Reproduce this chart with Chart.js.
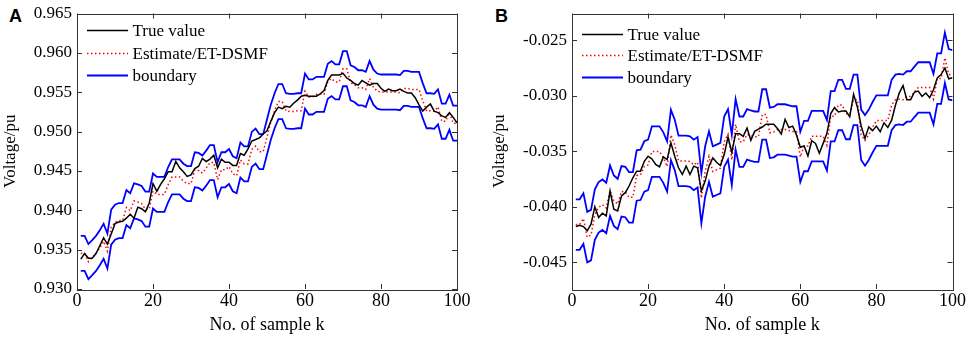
<!DOCTYPE html>
<html>
<head>
<meta charset="utf-8">
<script src="https://cdn.jsdelivr.net/npm/chart.js@4.4.1/dist/chart.umd.min.js"></script>
<style>
  body { margin: 0; background: #fff; width: 969px; height: 341px; position: relative; overflow: hidden; }
  .wrap { position: absolute; top: 0; height: 341px; }
  #wrapA { left: 0; width: 480px; }
  #wrapB { left: 485px; width: 484px; }
  .tag { position: absolute; top: 7px; font: bold 18px "Liberation Sans", Arial, sans-serif; line-height: 18px; color: #000; }
</style>
</head>
<body>
<div class="tag" style="left:9px">A</div>
<div class="tag" style="left:495px">B</div>
<div class="wrap" id="wrapA"><canvas id="chartA" width="480" height="341"></canvas></div>
<div class="wrap" id="wrapB"><canvas id="chartB" width="484" height="341"></canvas></div>
<script>
// amostras k = 1..100
var sampleK = [];
for (var i = 1; i <= 100; i++) sampleK.push(i);

var xTicks = [0, 20, 40, 60, 80, 100];
var yTicksA = [0.930, 0.935, 0.940, 0.945, 0.950, 0.955, 0.960, 0.965];
var yTicksB = [-0.045, -0.040, -0.035, -0.030, -0.025];

// Painel A
var trueA = [0.9338,0.9345,0.9339,0.9339,0.9345,0.9355,0.9365,0.9357,0.9370,0.9383,
  0.9385,0.9386,0.9390,0.9395,0.9390,0.9404,0.9402,0.9398,0.9409,0.9434,
  0.9424,0.9433,0.9440,0.9449,0.9449,0.9462,0.9454,0.9449,0.9443,0.9445,
  0.9453,0.9456,0.9466,0.9462,0.9465,0.9470,0.9454,0.9465,0.9461,0.9461,
  0.9457,0.9457,0.9472,0.9470,0.9478,0.9488,0.9490,0.9492,0.9497,0.9501,
  0.9513,0.9524,0.9531,0.9529,0.9532,0.9531,0.9536,0.9540,0.9545,0.9546,
  0.9545,0.9545,0.9545,0.9548,0.9552,0.9565,0.9572,0.9572,0.9572,0.9574,
  0.9568,0.9565,0.9561,0.9559,0.9565,0.9562,0.9559,0.9561,0.9561,0.9555,
  0.9551,0.9554,0.9552,0.9552,0.9554,0.9551,0.9549,0.9549,0.9543,0.9534,
  0.9526,0.9531,0.9535,0.9526,0.9524,0.9520,0.9518,0.9524,0.9518,0.9511];
var estA = [0.93452,0.93452,0.93348,0.93398,0.93452,0.93523,0.93606,0.93481,0.93785,0.93848,
  0.93869,0.93869,0.94035,0.93994,0.94119,0.94106,0.94085,0.94014,0.94014,0.94244,
  0.94202,0.94202,0.94202,0.94327,0.94423,0.94423,0.94423,0.94369,0.94339,0.94339,
  0.94514,0.94506,0.94473,0.94535,0.94606,0.94606,0.94389,0.94514,0.94514,0.94556,
  0.94464,0.94439,0.94639,0.94589,0.94589,0.94773,0.94814,0.94744,0.94744,0.94931,
  0.95119,0.95264,0.95381,0.95381,0.95264,0.95256,0.95256,0.95264,0.95264,0.95514,
  0.95439,0.95439,0.95473,0.95473,0.95473,0.95639,0.95673,0.95631,0.95631,0.95798,
  0.95798,0.95619,0.95598,0.95556,0.95556,0.95535,0.95673,0.95564,0.95514,0.95502,
  0.95502,0.95502,0.95502,0.95502,0.95494,0.95548,0.95548,0.95535,0.95535,0.95535,
  0.95389,0.95264,0.95264,0.95256,0.95314,0.95131,0.95131,0.95244,0.95106,0.95106];
var upperA = [0.93675,0.93675,0.93571,0.93621,0.93675,0.93746,0.93829,0.93704,0.94008,0.94071,
  0.94092,0.94092,0.94258,0.94217,0.94342,0.94329,0.94308,0.94237,0.94237,0.94467,
  0.94425,0.94425,0.94425,0.94550,0.94646,0.94646,0.94646,0.94592,0.94562,0.94562,
  0.94737,0.94729,0.94696,0.94758,0.94829,0.94829,0.94612,0.94737,0.94737,0.94779,
  0.94687,0.94662,0.94862,0.94812,0.94812,0.94996,0.95037,0.94967,0.94967,0.95154,
  0.95342,0.95487,0.95604,0.95604,0.95487,0.95479,0.95479,0.95487,0.95487,0.95737,
  0.95662,0.95662,0.95696,0.95696,0.95696,0.95862,0.95896,0.95854,0.95854,0.96021,
  0.96021,0.95842,0.95821,0.95779,0.95779,0.95758,0.95896,0.95787,0.95737,0.95725,
  0.95725,0.95725,0.95725,0.95725,0.95717,0.95771,0.95771,0.95758,0.95758,0.95758,
  0.95612,0.95487,0.95487,0.95479,0.95537,0.95354,0.95354,0.95467,0.95329,0.95329];
var lowerA = [0.93230,0.93230,0.93126,0.93176,0.93230,0.93301,0.93384,0.93259,0.93563,0.93626,
  0.93647,0.93647,0.93813,0.93772,0.93897,0.93884,0.93863,0.93792,0.93792,0.94022,
  0.93980,0.93980,0.93980,0.94105,0.94201,0.94201,0.94201,0.94147,0.94117,0.94117,
  0.94292,0.94284,0.94251,0.94313,0.94384,0.94384,0.94167,0.94292,0.94292,0.94334,
  0.94242,0.94217,0.94417,0.94367,0.94367,0.94551,0.94592,0.94522,0.94522,0.94709,
  0.94897,0.95042,0.95159,0.95159,0.95042,0.95034,0.95034,0.95042,0.95042,0.95292,
  0.95217,0.95217,0.95251,0.95251,0.95251,0.95417,0.95451,0.95409,0.95409,0.95576,
  0.95576,0.95397,0.95376,0.95334,0.95334,0.95313,0.95451,0.95342,0.95292,0.95280,
  0.95280,0.95280,0.95280,0.95280,0.95272,0.95326,0.95326,0.95313,0.95313,0.95313,
  0.95167,0.95042,0.95042,0.95034,0.95092,0.94909,0.94909,0.95022,0.94884,0.94884];

// Painel B
var trueB = [-0.04178,-0.04166,-0.04178,-0.04216,-0.04157,-0.03999,-0.04097,-0.04058,-0.04082,-0.03858,
  -0.04022,-0.04037,-0.03903,-0.03873,-0.03813,-0.03739,-0.03679,-0.03679,-0.03590,-0.03545,
  -0.03569,-0.03619,-0.03640,-0.03551,-0.03575,-0.03425,-0.03545,-0.03649,-0.03709,-0.03634,
  -0.03709,-0.03634,-0.03649,-0.03858,-0.03769,-0.03634,-0.03560,-0.03599,-0.03628,-0.03530,
  -0.03372,-0.03509,-0.03342,-0.03342,-0.03366,-0.03291,-0.03401,-0.03321,-0.03300,-0.03282,
  -0.03256,-0.03256,-0.03256,-0.03295,-0.03345,-0.03214,-0.03286,-0.03274,-0.03354,-0.03464,
  -0.03452,-0.03542,-0.03405,-0.03429,-0.03518,-0.03429,-0.03339,-0.03161,-0.03107,-0.03146,
  -0.03137,-0.03137,-0.03190,-0.02988,-0.03101,-0.03274,-0.03384,-0.03280,-0.03315,-0.03274,
  -0.03324,-0.03244,-0.03286,-0.03220,-0.03086,-0.02976,-0.02908,-0.03036,-0.03036,-0.02967,
  -0.02958,-0.03006,-0.02976,-0.03018,-0.02946,-0.02839,-0.02810,-0.02750,-0.02848,-0.02839];
var estB = [-0.04160,-0.04160,-0.04106,-0.04273,-0.04255,-0.04070,-0.04005,-0.03981,-0.04011,-0.03855,
  -0.03945,-0.03975,-0.03861,-0.03867,-0.03915,-0.03915,-0.03718,-0.03712,-0.03637,-0.03623,
  -0.03503,-0.03503,-0.03503,-0.03557,-0.03637,-0.03354,-0.03443,-0.03587,-0.03587,-0.03587,
  -0.03593,-0.03623,-0.03599,-0.03921,-0.03682,-0.03548,-0.03682,-0.03667,-0.03652,-0.03414,
  -0.03348,-0.03578,-0.03258,-0.03414,-0.03414,-0.03348,-0.03360,-0.03369,-0.03369,-0.03169,
  -0.03169,-0.03334,-0.03328,-0.03304,-0.03304,-0.03304,-0.03313,-0.03322,-0.03322,-0.03551,
  -0.03453,-0.03453,-0.03364,-0.03364,-0.03364,-0.03364,-0.03447,-0.03185,-0.03185,-0.03084,
  -0.03084,-0.03165,-0.03165,-0.03037,-0.03037,-0.03352,-0.03403,-0.03352,-0.03284,-0.03224,
  -0.03224,-0.03224,-0.03224,-0.03084,-0.03037,-0.03031,-0.03037,-0.03007,-0.03007,-0.02965,
  -0.02926,-0.02926,-0.02926,-0.02926,-0.03031,-0.02846,-0.02846,-0.02659,-0.02807,-0.02816];
var upperB = [-0.03933,-0.03933,-0.03879,-0.04046,-0.04028,-0.03843,-0.03778,-0.03754,-0.03784,-0.03628,
  -0.03718,-0.03748,-0.03634,-0.03640,-0.03688,-0.03688,-0.03491,-0.03485,-0.03410,-0.03396,
  -0.03276,-0.03276,-0.03276,-0.03330,-0.03410,-0.03127,-0.03216,-0.03360,-0.03360,-0.03360,
  -0.03366,-0.03396,-0.03372,-0.03694,-0.03455,-0.03321,-0.03455,-0.03440,-0.03425,-0.03187,
  -0.03121,-0.03351,-0.03031,-0.03187,-0.03187,-0.03121,-0.03133,-0.03142,-0.03142,-0.02942,
  -0.02942,-0.03107,-0.03101,-0.03077,-0.03077,-0.03077,-0.03086,-0.03095,-0.03095,-0.03324,
  -0.03226,-0.03226,-0.03137,-0.03137,-0.03137,-0.03137,-0.03220,-0.02958,-0.02958,-0.02857,
  -0.02857,-0.02938,-0.02938,-0.02810,-0.02810,-0.03125,-0.03176,-0.03125,-0.03057,-0.02997,
  -0.02997,-0.02997,-0.02997,-0.02857,-0.02810,-0.02804,-0.02810,-0.02780,-0.02780,-0.02738,
  -0.02699,-0.02699,-0.02699,-0.02699,-0.02804,-0.02619,-0.02619,-0.02432,-0.02580,-0.02589];
var lowerB = [-0.04387,-0.04387,-0.04333,-0.04500,-0.04482,-0.04297,-0.04232,-0.04208,-0.04238,-0.04082,
  -0.04172,-0.04202,-0.04088,-0.04094,-0.04142,-0.04142,-0.03945,-0.03939,-0.03864,-0.03850,
  -0.03730,-0.03730,-0.03730,-0.03784,-0.03864,-0.03581,-0.03670,-0.03814,-0.03814,-0.03814,
  -0.03820,-0.03850,-0.03826,-0.04148,-0.03909,-0.03775,-0.03909,-0.03894,-0.03879,-0.03641,
  -0.03575,-0.03805,-0.03485,-0.03641,-0.03641,-0.03575,-0.03587,-0.03596,-0.03596,-0.03396,
  -0.03396,-0.03561,-0.03555,-0.03531,-0.03531,-0.03531,-0.03540,-0.03549,-0.03549,-0.03778,
  -0.03680,-0.03680,-0.03591,-0.03591,-0.03591,-0.03591,-0.03674,-0.03412,-0.03412,-0.03311,
  -0.03311,-0.03392,-0.03392,-0.03264,-0.03264,-0.03579,-0.03630,-0.03579,-0.03511,-0.03451,
  -0.03451,-0.03451,-0.03451,-0.03311,-0.03264,-0.03258,-0.03264,-0.03234,-0.03234,-0.03192,
  -0.03153,-0.03153,-0.03153,-0.03153,-0.03258,-0.03073,-0.03073,-0.02886,-0.03034,-0.03043];

var serif = '"Liberation Serif", "Times New Roman", serif';

// moldura e ticks para dentro (todos os lados)
var frameTicks = {
  id: 'frameTicks',
  afterDraw: function(chart) {
    var ctx = chart.ctx, a = chart.chartArea, x = chart.scales.x, y = chart.scales.y;
    var len = 5;
    ctx.save();
    ctx.strokeStyle = '#333';
    ctx.lineWidth = 1;
    ctx.beginPath();
    x.ticks.forEach(function(t) {
      var px = Math.round(x.getPixelForValue(t.value)) + 0.5;
      ctx.moveTo(px, a.bottom); ctx.lineTo(px, a.bottom - len);
      ctx.moveTo(px, a.top); ctx.lineTo(px, a.top + len);
    });
    y.ticks.forEach(function(t) {
      var py = Math.round(y.getPixelForValue(t.value)) + 0.5;
      ctx.moveTo(a.left, py); ctx.lineTo(a.left + len, py);
      ctx.moveTo(a.right, py); ctx.lineTo(a.right - len, py);
    });
    ctx.stroke();
    ctx.strokeRect(Math.round(a.left) + 0.5, Math.round(a.top) + 0.5,
      Math.round(a.right - a.left), Math.round(a.bottom - a.top));
    ctx.restore();
  }
};

// legenda dentro do gráfico
var insideLegend = {
  id: 'insideLegend',
  afterDraw: function(chart, args, opts) {
    var ctx = chart.ctx, a = chart.chartArea;
    var seen = {};
    var row = 0;
    ctx.save();
    ctx.font = '17px ' + serif;
    ctx.textBaseline = 'middle';
    chart.data.datasets.forEach(function(ds) {
      if (seen[ds.label]) return;
      seen[ds.label] = true;
      var yy = a.top + opts.rows[row++];
      ctx.beginPath();
      ctx.strokeStyle = ds.borderColor;
      ctx.lineWidth = ds.borderWidth;
      ctx.setLineDash(ds.borderDash || []);
      ctx.moveTo(a.left + opts.x0, yy);
      ctx.lineTo(a.left + opts.x1, yy);
      ctx.stroke();
      ctx.setLineDash([]);
      ctx.fillStyle = '#000';
      ctx.fillText(ds.label, a.left + opts.tx, yy + 1);
    });
    ctx.restore();
  }
};

function makeChart(id, s, yMin, yMax, yTicks, axisW, padRight, titlePad, legendRows) {
  var line = function(label, data, color, width, dash, order) {
    return { label: label, data: data, borderColor: color, borderWidth: width,
      borderDash: dash, pointRadius: 0, tension: 0, fill: false, order: order };
  };
  return new Chart(document.getElementById(id), {
    type: 'line',
    data: {
      labels: sampleK,
      datasets: [
        line('True value', s.t, '#000000', 1.5, [], 0),
        line('Estimate/ET-DSMF', s.e, '#ff0000', 1.5, [1.5, 2.5], 1),
        line('boundary', s.u, '#0000ff', 1.8, [], 2),
        line('boundary', s.l, '#0000ff', 1.8, [], 2)
      ]
    },
    options: {
      responsive: false,
      animation: false,
      events: [],
      layout: { padding: { top: 9, right: padRight, left: 0, bottom: 0 } },
      plugins: {
        legend: { display: false },
        tooltip: { enabled: false },
        insideLegend: { rows: legendRows, x0: 10, x1: 51, tx: 55.5 }
      },
      scales: {
        x: {
          type: 'linear', min: 0, max: 100,
          grid: { display: false, drawTicks: false },
          border: { display: false },
          afterBuildTicks: function(sc) { sc.ticks = xTicks.map(function(v) { return { value: v }; }); },
          afterFit: function(sc) { sc.height = 52; },
          ticks: { color: '#000', padding: 3, font: { family: serif, size: 18, lineHeight: 1 }, maxRotation: 0,
            callback: function(v) { return v; } },
          title: { display: true, text: 'No. of sample k', color: '#000',
            font: { family: serif, size: 18 }, padding: { top: 0, bottom: 5 } }
        },
        y: {
          min: yMin, max: yMax,
          grid: { display: false, drawTicks: false },
          border: { display: false },
          afterBuildTicks: function(sc) { sc.ticks = yTicks.map(function(v) { return { value: v }; }); },
          afterFit: function(sc) { sc.width = axisW; },
          ticks: { color: '#000', padding: 5, font: { family: serif, size: 17, lineHeight: 1 },
            callback: function(v) { return Number(v).toFixed(3); } },
          title: { display: true, text: 'Voltage/pu', color: '#000',
            font: { family: serif, size: 17 }, padding: { top: titlePad, bottom: 0 } }
        }
      }
    },
    plugins: [frameTicks, insideLegend]
  });
}

makeChart('chartA', { t: trueA, e: estA, u: upperA, l: lowerA },
  0.930, 0.965, yTicksA, 77, 23, 0, [17, 40, 62]);
makeChart('chartB', { t: trueB, e: estB, u: upperB, l: lowerB },
  -0.0474, -0.0226, yTicksB, 87, 16, 4, [21, 42, 64]);
</script>
</body>
</html>
